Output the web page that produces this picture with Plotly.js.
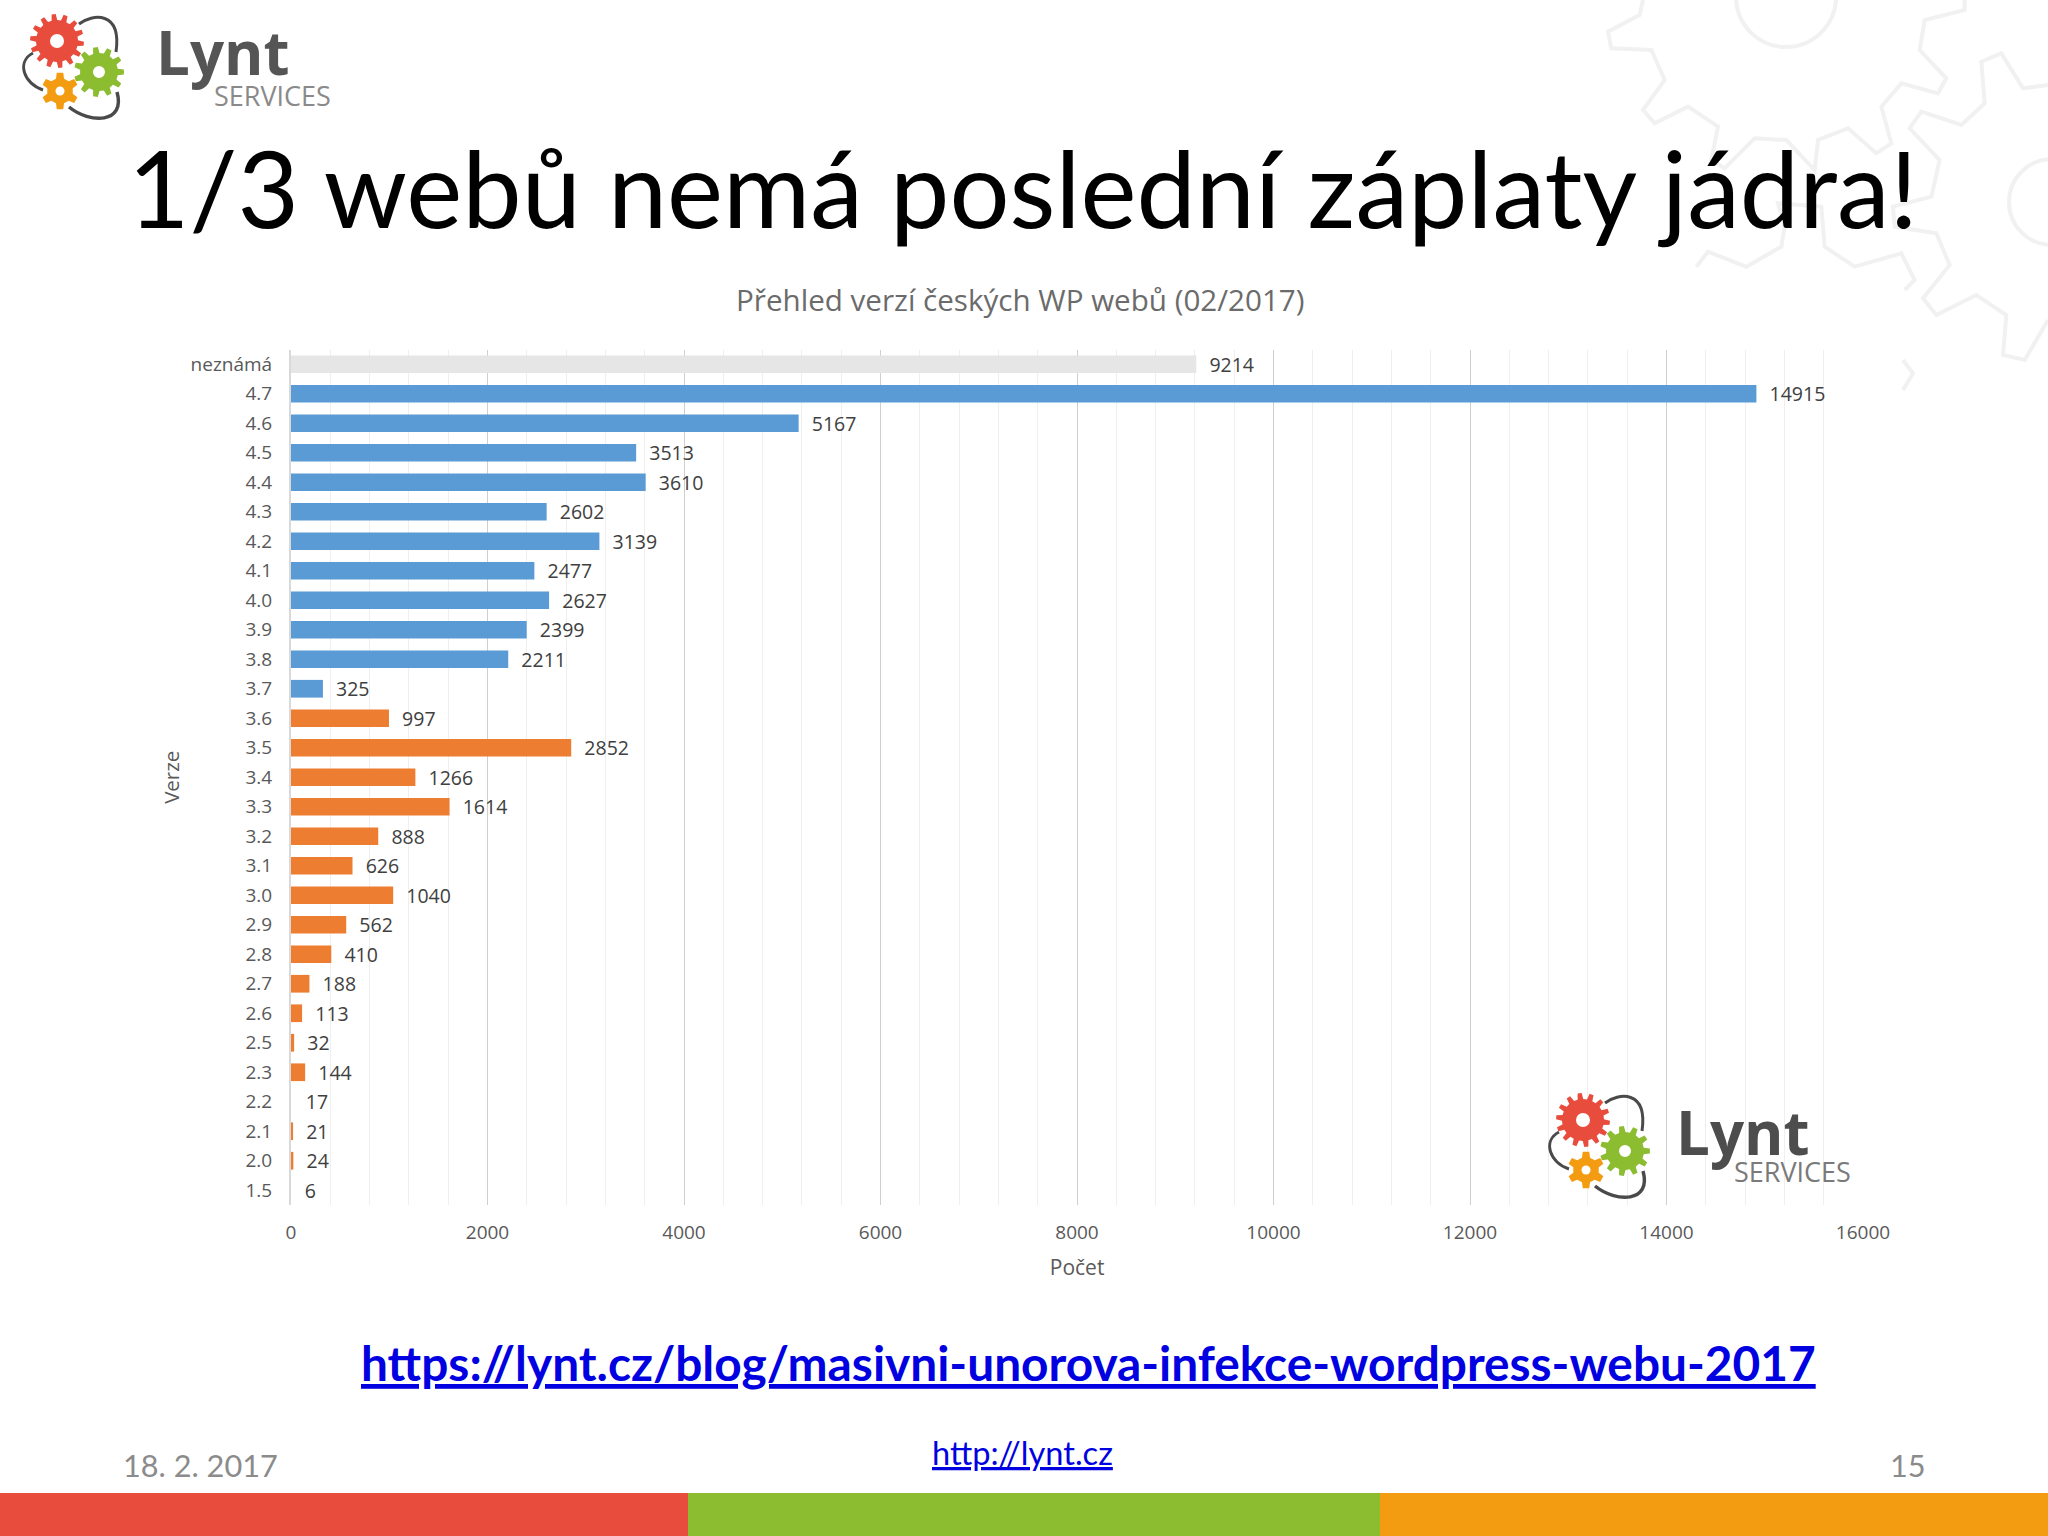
<!DOCTYPE html>
<html><head><meta charset="utf-8">
<script src="https://cdn.plot.ly/plotly-3.0.1.min.js"></script>
<style>html,body{margin:0;padding:0;background:#fff}#chart{width:2048px;height:1536px}</style>
</head><body><div id="chart"></div>
<script>
const versions = ['neznámá','4.7','4.6','4.5','4.4','4.3','4.2','4.1','4.0','3.9','3.8','3.7','3.6','3.5','3.4','3.3','3.2','3.1','3.0','2.9','2.8','2.7','2.6','2.5','2.3','2.2','2.1','2.0','1.5'];
const counts = [9214,14915,5167,3513,3610,2602,3139,2477,2627,2399,2211,325,997,2852,1266,1614,888,626,1040,562,410,188,113,32,144,17,21,24,6];
const unknownLabel = 'neznámá';
const noVisibleBar = ['2.2','1.5'];

const W = 2048, H = 1536;
const px = x => (x / W).toFixed(5);
const py = y => (1 - y / H).toFixed(5);
const colorOf = v => {
  if (v === unknownLabel) return '#e7e6e6';
  if (noVisibleBar.includes(v)) return 'rgba(0,0,0,0)';
  return parseFloat(v) >= 3.7 ? '#5b9bd5' : '#ed7d31';
};

const shapes = [];
function addPoly(pts, close, color, width, fill) {
  const d = pts.map((p, i) => (i ? 'L' : 'M') + px(p[0]) + ' ' + py(p[1])).join(' ') + (close ? ' Z' : '');
  shapes.push({type:'path', xref:'paper', yref:'paper', path:d, layer:'below',
    line:{color:color, width:width}, fillcolor: fill || 'rgba(0,0,0,0)'});
}
function addCircle(cx, cy, r, line, width, fill, layer) {
  shapes.push({type:'circle', xref:'paper', yref:'paper', x0:px(cx-r), x1:px(cx+r), y0:py(cy+r), y1:py(cy-r), layer:layer,
    line:{color:line, width:width}, fillcolor:fill});
}
function addGear(cx, cy, rOut, rIn, teeth, hole, color, rot) {
  const pts = [];
  for (let i = 0; i < teeth; i++) {
    const a = rot + i * 2 * Math.PI / teeth, s = 2 * Math.PI / teeth;
    [[-0.3,rIn],[-0.17,rOut],[0.17,rOut],[0.3,rIn]].forEach(q => {
      pts.push([cx + q[1]*Math.cos(a+q[0]*s), cy + q[1]*Math.sin(a+q[0]*s)]);
    });
  }
  const d = pts.map((p, i) => (i ? 'L' : 'M') + px(p[0]) + ' ' + py(p[1])).join(' ') + ' Z';
  shapes.push({type:'path', xref:'paper', yref:'paper', path:d, layer:'above', line:{width:0}, fillcolor:color});
  addCircle(cx, cy, hole, 'rgba(0,0,0,0)', 0, '#ffffff', 'above');
}
function addArc(ox, oy, a, b, c, d, w) {
  const f = p => px(p[0]+ox) + ' ' + py(p[1]+oy);
  shapes.push({type:'path', xref:'paper', yref:'paper', layer:'above',
    path:'M'+f(a)+' C'+f(b)+' '+f(c)+' '+f(d), line:{color:'#4a4a4a', width:w}});
}
function addLogo(ox, oy) {
  addGear(57+ox, 41+oy, 27, 21, 14, 7, '#e84c3d', 0.1);
  addGear(99+ox, 72+oy, 25, 19, 11, 6, '#8cbd31', 0);
  addGear(60+ox, 91+oy, 18.5, 13, 6, 4.5, '#f39c12', -Math.PI/2);
  addArc(ox, oy, [79,24], [92,14], [122,10], [116,52], 3);
  addArc(ox, oy, [33,53], [16,62], [24,84], [43,90], 3);
  addArc(ox, oy, [69,107], [90,124], [126,124], [117,92], 3.5);
}

// slide background outlines
const toSlide = a => a.map(p => [1548 + p[0]/3, p[1]/3]);
const gearLine = '#f2f1f1';
addPoly(toSlide([[285,0],[275,45],[180,95],[190,145],[310,150],[350,240],[285,330],[320,370],[420,320],[510,380],[490,480],[530,505],[620,415],[715,420],[800,510],[810,420],[900,385],[985,460],[1030,430],[1000,320],[1060,250],[1170,280],[1195,235],[1115,150],[1130,60],[1250,30],[1250,0]]), false, gearLine, 4);
addPoly(toSlide([[1500,255],[1425,265],[1360,160],[1300,185],[1310,310],[1240,375],[1120,335],[1085,385],[1175,480],[1150,590],[1035,620],[1040,680],[1165,700],[1205,795],[1125,895],[1165,945],[1285,885],[1375,945],[1365,1065],[1430,1080],[1500,960]]), false, gearLine, 4);
addPoly(toSlide([[445,800],[480,755],[595,800],[700,740],[710,680],[690,610],[820,620],[830,740],[920,800],[1060,760],[1100,840],[1070,870]]), false, gearLine, 4);
addPoly(toSlide([[1065,1080],[1095,1120],[1065,1170]]), false, gearLine, 4);
addCircle(1786, -3, 50, gearLine, 4, 'rgba(0,0,0,0)', 'below');
addCircle(2052, 202, 43, gearLine, 4, 'rgba(0,0,0,0)', 'below');

// footer band
[[0,688,'#e84c3d'],[688,1380,'#8cbd31'],[1380,2048,'#f39c12']].forEach(b => {
  shapes.push({type:'rect', xref:'paper', yref:'paper', x0:px(b[0]), x1:px(b[1]), y0:py(1536), y1:py(1493), line:{width:0}, fillcolor:b[2], layer:'below'});
});
addLogo(0, 0);
addLogo(1526, 1079);

const note = (text, x, y, size, color, family, anchor, extra) => Object.assign({
  text:text, xref:'paper', yref:'paper', x:+px(x), y:+py(y), showarrow:false,
  xanchor:anchor || 'center', yanchor:'middle', font:{size:size, color:color, family:family}
}, extra || {});
const UI = '"Open Sans", sans-serif', SL = 'Lato, sans-serif';
const annotations = [
  note('1/3 webů nemá poslední záplaty jádra!', 1023, 187, 106, '#000000', SL),
  note('Přehled verzí českých WP webů (02/2017)', 1020, 300, 29.6, '#6b6b6b', UI),
  note('<b><span style="text-decoration:underline">https://lynt.cz/blog/masivni-unorova-infekce-wordpress-webu-2017</span></b>', 1088, 1362, 47.8, '#0000e0', SL),
  note('18. 2. 2017', 121, 1465, 30.7, '#8b8b8b', SL, 'left'),
  note('<span style="text-decoration:underline">http://lynt.cz</span>', 1023, 1453, 32.6, '#0000e0', SL),
  note('15', 1928, 1465, 30.7, '#8b8b8b', SL, 'right'),
  note('<b>Lynt</b>', 154, 52, 60, '#555555', UI, 'left'),
  note('SERVICES', 212, 95, 27, '#8a8a8a', UI, 'left'),
  note('<b>Lynt</b>', 1674, 1132, 60, '#4d4d4d', UI, 'left'),
  note('SERVICES', 1732, 1172, 27, '#7a7a7a', UI, 'left')
];

const trace = {
  type:'bar', orientation:'h', y:versions, x:counts,
  width:0.6,
  marker:{color:versions.map(colorOf), line:{width:0}},
  text:counts.map(v => '\u00a0\u00a0' + v), textposition:'outside', cliponaxis:false, constraintext:'none',
  textfont:{family:UI, size:19.5, color:'#404040'}, hoverinfo:'x+y'
};
const layout = {
  width:W, height:H, margin:{l:0,r:0,t:0,b:0}, paper_bgcolor:'#ffffff', plot_bgcolor:'rgba(0,0,0,0)',
  showlegend:false, shapes:shapes, annotations:annotations, font:{family:UI},
  xaxis:{domain:[291/W,1863.2/W], range:[0,16002], tickmode:'linear', tick0:0, dtick:2000, tickformat:'d', showgrid:true, gridcolor:'#cfcfcf', gridwidth:1,
    minor:{dtick:400, showgrid:true, gridcolor:'#efefef', gridwidth:1, ticks:''},
    zeroline:false, showline:false, ticks:'outside', ticklen:10.5, tickcolor:'rgba(0,0,0,0)',
    tickfont:{family:UI, size:19, color:'#595959'},
    title:{text:'Počet', font:{family:UI, size:21, color:'#595959'}, standoff:15.5}},
  yaxis:{domain:[1-1205/H,1-349.5/H], type:'category', categoryorder:'array', categoryarray:versions, autorange:'reversed',
    showgrid:false, zeroline:false, showline:true, linecolor:'#d9d9d9', linewidth:2, ticks:'outside', ticklen:13, tickcolor:'rgba(0,0,0,0)',
    tickfont:{family:UI, size:19, color:'#595959'},
    title:{text:'Verze', font:{family:UI, size:20.5, color:'#595959'}, standoff:5.5}}
};
Plotly.newPlot('chart', [trace], layout, {displayModeBar:false, staticPlot:true});
</script></body></html>
